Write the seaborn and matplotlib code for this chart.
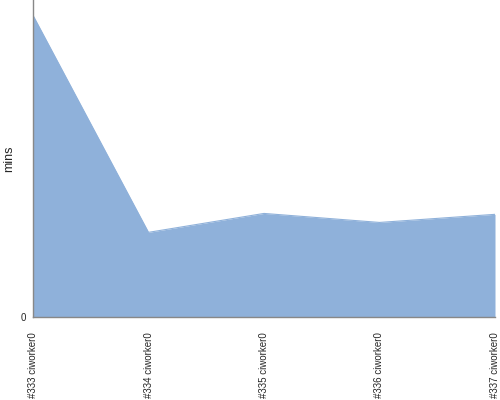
import matplotlib
matplotlib.use("Agg")
import matplotlib.pyplot as plt
import seaborn as sns
import pandas as pd

builds = ["#333 ciworker0", "#334 ciworker0", "#335 ciworker0", "#336 ciworker0", "#337 ciworker0"]
mins = [33.5, 9.4, 11.5, 10.5, 11.4]

sns.set_style("white")
plt.rcParams['font.family'] = ['Liberation Sans', 'DejaVu Sans']

df = pd.DataFrame({"build": range(len(builds)), "mins": mins})

fig = plt.figure(figsize=(5, 4), dpi=100)
ax = fig.add_axes([33 / 500, 83 / 400, 462 / 500, 317 / 400])

sns.lineplot(data=df, x="build", y="mins", ax=ax, color="#8fb1da", linewidth=0.8)
ax.fill_between(df["build"], df["mins"], color="#8fb1da", linewidth=0)

ax.set_xlim(0, len(builds) - 1)
ax.set_ylim(0, 35.2)
ax.set_yticks([0])
ax.set_xticks(range(len(builds)))
ax.set_xticklabels(builds, rotation=90, fontsize=7)
ax.tick_params(axis="y", labelsize=7, length=3, color="#888888", pad=2)
ax.tick_params(axis="x", length=5, color="#888888", pad=6)
ax.set_xlabel("")
ax.set_ylabel("mins", fontsize=9)
ax.yaxis.set_label_coords(-18 / 462, 0.5)

for side in ["top", "right"]:
    ax.spines[side].set_visible(False)
for side in ["left", "bottom"]:
    ax.spines[side].set_color("#888888")
    ax.spines[side].set_linewidth(1)

fig.savefig("out.png", dpi=100)
